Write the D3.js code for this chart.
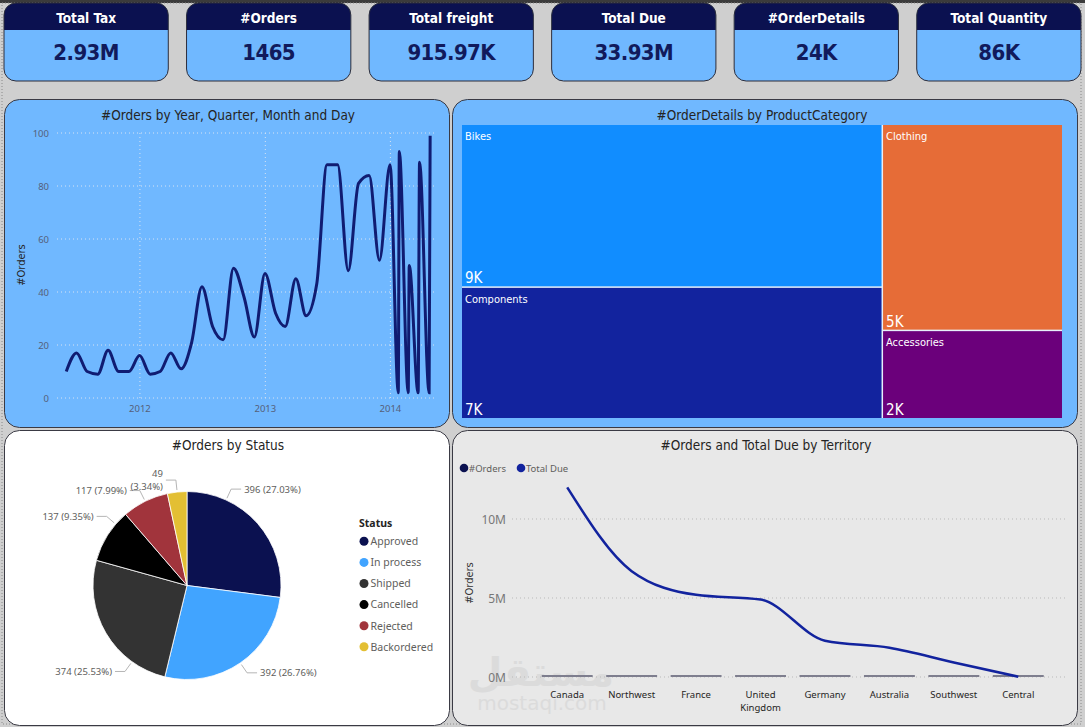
<!DOCTYPE html>
<html>
<head>
<meta charset="utf-8">
<script src="https://cdn.jsdelivr.net/npm/d3@7"></script>
<style>
  body { margin: 0; background: #cfcfcf; }
  svg { display: block; }
  .din { font-family: "DejaVu Sans Condensed", "DejaVu Sans", sans-serif; }
  .ui { font-family: "Noto Sans", "Open Sans", sans-serif; }
</style>
</head>
<body>
<svg id="dash" width="1085" height="727"></svg>
<script>
// ---- data ----
var kpiLabels = ["Total Tax", "#Orders", "Total freight", "Total Due", "#OrderDetails", "Total Quantity"];
var kpiValues = ["2.93M", "1465", "915.97K", "33.93M", "24K", "86K"];

var orderDates = ["2011-05-31", "2011-06-30", "2011-07-31", "2011-08-31", "2011-09-30", "2011-10-31",
  "2011-11-30", "2011-12-31", "2012-01-31", "2012-02-29", "2012-03-31", "2012-04-30", "2012-05-31",
  "2012-06-30", "2012-07-31", "2012-08-31", "2012-09-30", "2012-10-31", "2012-11-30", "2012-12-31",
  "2013-01-31", "2013-02-28", "2013-03-31", "2013-04-30", "2013-05-31", "2013-06-30", "2013-07-31",
  "2013-08-31", "2013-09-30", "2013-10-31", "2013-11-30", "2013-12-31",
  "2014-01-24", "2014-01-27", "2014-02-22", "2014-02-25", "2014-03-23", "2014-03-27",
  "2014-04-24", "2014-04-27"];
var orderCounts = [10, 17, 10, 9, 18, 10, 10, 16, 9, 10, 17, 11, 21, 42, 27, 22, 49, 38, 23, 47,
  32, 27, 45, 31, 43, 88, 88, 48, 81, 84, 52, 88, 2, 93, 2, 50, 2, 89, 2, 99];
var orderYTicks = [0, 20, 40, 60, 80, 100];

var categories = ["Bikes", "Components", "Clothing", "Accessories"];
var categoryDetails = [9217, 7450, 5000, 2143];
var categoryGroup = [0, 0, 1, 1];
var categoryLabels = ["9K", "7K", "5K", "2K"];

var statuses = ["Approved", "In process", "Shipped", "Cancelled", "Rejected", "Backordered"];
var statusOrders = [396, 392, 374, 137, 117, 49];

var territories = ["Canada", "Northwest", "France", "United Kingdom", "Germany", "Australia", "Southwest", "Central"];
var territoryOrders = [260, 240, 200, 190, 180, 170, 160, 65]; // estimated, too small to read at this scale
var territoryDue = [12.0e6, 6.7e6, 5.2e6, 4.9e6, 2.3e6, 1.85e6, 0.92e6, 0.02e6];
var dueTicks = [0, 5e6, 10e6];

var svg = d3.select("#dash");

// frame
svg.append("rect").attr("x", 0).attr("y", 0).attr("width", 1085).attr("height", 3).attr("fill", "#3b3b3b");
svg.append("rect").attr("x", 2).attr("y", 3).attr("width", 1079).attr("height", 721)
  .attr("fill", "none").attr("stroke", "#8a8a8a").attr("stroke-dasharray", "1,2");

// ---- KPI cards ----
var cardX = d3.scaleBand().domain(kpiLabels).range([4, 1081]).paddingInner(0.1);
var defs = svg.append("defs");
kpiLabels.forEach(function (k, i) {
  var x0 = cardX(k), w = cardX.bandwidth();
  defs.append("clipPath").attr("id", "card" + i)
    .append("rect").attr("x", x0).attr("y", 3).attr("width", w).attr("height", 78).attr("rx", 12);
  var g = svg.append("g");
  g.append("rect").attr("x", x0).attr("y", 3).attr("width", w).attr("height", 78).attr("rx", 12).attr("fill", "#70b8ff");
  g.append("rect").attr("x", x0).attr("y", 3).attr("width", w).attr("height", 27)
    .attr("fill", "#0b1150").attr("clip-path", "url(#card" + i + ")");
  g.append("rect").attr("x", x0).attr("y", 3).attr("width", w).attr("height", 78).attr("rx", 12)
    .attr("fill", "none").attr("stroke", "#2d2d3a").attr("stroke-width", 1);
  g.append("text").attr("class", "din").attr("x", x0 + w / 2).attr("y", 22.5)
    .attr("text-anchor", "middle").attr("fill", "#fff").attr("font-size", 13.5).attr("font-weight", "bold").text(k);
  g.append("text").attr("class", "din").attr("x", x0 + w / 2).attr("y", 60)
    .attr("text-anchor", "middle").attr("fill", "#111a5c").attr("font-size", 22).attr("letter-spacing", -0.6)
    .attr("font-weight", "bold").text(kpiValues[i]);
});

function panel(x, y, w, h, fill) {
  svg.append("rect").attr("x", x).attr("y", y).attr("width", w).attr("height", h).attr("rx", 15)
    .attr("fill", fill).attr("stroke", "#3a3a44").attr("stroke-width", 1);
}
function title(x, y, t) {
  svg.append("text").attr("class", "din").attr("x", x).attr("y", y).attr("text-anchor", "middle")
    .attr("fill", "#252423").attr("font-size", 13.5).text(t);
}

// ---- line chart: #Orders by date ----
panel(4.5, 99.5, 445, 328, "#70b8ff");
title(228, 119.5, "#Orders by Year, Quarter, Month and Day");

var parse = d3.timeParse("%Y-%m-%d");
var x = d3.scaleTime().domain([new Date(2011, 4, 4), new Date(2014, 4, 17)]).range([57, 437]);
var y = d3.scaleLinear().domain([0, 100]).range([398, 133]);
var lc = svg.append("g");
lc.selectAll(".hg").data(orderYTicks).enter().append("line")
  .attr("x1", 57).attr("x2", 437).attr("y1", y).attr("y2", y)
  .attr("stroke", "#d7e3f3").attr("stroke-dasharray", "1,3");
var years = x.ticks(d3.timeYear.every(1));
lc.selectAll(".vg").data(years).enter().append("line")
  .attr("x1", x).attr("x2", x).attr("y1", 133).attr("y2", 398)
  .attr("stroke", "#d7e3f3").attr("stroke-dasharray", "1,3");
lc.selectAll(".yl").data(orderYTicks).enter().append("text").attr("class", "ui")
  .attr("x", 49).attr("y", function (d) { return y(d) + 3.5; }).attr("text-anchor", "end")
  .attr("font-size", 9.5).attr("fill", "#55607a").text(function (d) { return d; });
lc.selectAll(".xl").data(years).enter().append("text").attr("class", "ui")
  .attr("x", x).attr("y", 412).attr("text-anchor", "middle")
  .attr("font-size", 9.5).attr("fill", "#55607a").text(d3.timeFormat("%Y"));
lc.append("text").attr("class", "din").attr("transform", "translate(25,265) rotate(-90)")
  .attr("text-anchor", "middle").attr("font-size", 11).attr("fill", "#252423").text("#Orders");
var pts = orderDates.map(function (d, i) { return [parse(d), orderCounts[i]]; });
lc.append("path").datum(pts)
  .attr("d", d3.line().x(function (d) { return x(d[0]); }).y(function (d) { return y(d[1]); }).curve(d3.curveMonotoneX))
  .attr("fill", "none").attr("stroke", "#101c72").attr("stroke-width", 3);

// ---- treemap: #OrderDetails by ProductCategory ----
panel(452.5, 99.5, 625, 328, "#70b8ff");
title(762, 119.5, "#OrderDetails by ProductCategory");
var tmX = 462, tmY = 125, tmW = 600, tmH = 293;
svg.append("rect").attr("x", tmX).attr("y", tmY).attr("width", tmW).attr("height", tmH).attr("fill", "#e6f0fb");
var tmColors = d3.scaleOrdinal().domain(categories).range(["#118dff", "#12239e", "#e66c37", "#6b007b"]);
var groups = d3.groups(categories.map(function (c, i) {
  return { name: c, value: categoryDetails[i], label: categoryLabels[i], group: categoryGroup[i] };
}), function (d) { return d.group; });
var root = d3.hierarchy({ children: groups.map(function (g) { return { children: g[1] }; }) })
  .sum(function (d) { return d.value || 0; })
  .sort(function (a, b) { return b.value - a.value; });
d3.treemap().size([tmW, tmH]).tile(d3.treemapSliceDice).paddingInner(1.5)(root);
var cells = svg.append("g").attr("transform", "translate(" + tmX + "," + tmY + ")")
  .selectAll("g").data(root.leaves()).enter().append("g");
cells.append("rect").attr("x", function (d) { return d.x0; }).attr("y", function (d) { return d.y0; })
  .attr("width", function (d) { return d.x1 - d.x0; }).attr("height", function (d) { return d.y1 - d.y0; })
  .attr("fill", function (d) { return tmColors(d.data.name); });
cells.append("text").attr("class", "din").attr("x", function (d) { return d.x0 + 3; })
  .attr("y", function (d) { return d.y0 + 15; }).attr("font-size", 11).attr("fill", "#fff")
  .text(function (d) { return d.data.name; });
cells.append("text").attr("class", "din").attr("x", function (d) { return d.x0 + 3; })
  .attr("y", function (d) { return d.y1 - 3; }).attr("font-size", 15).attr("fill", "#fff")
  .text(function (d) { return d.data.label; });

// ---- pie: #Orders by Status ----
panel(4.5, 430.5, 445, 295, "#ffffff");
title(228, 449.5, "#Orders by Status");
var pieColors = d3.scaleOrdinal().domain(statuses).range(["#0b1150", "#41a4ff", "#333333", "#000000", "#a1343c", "#e3bf33"]);
var cx = 187, cy = 585.5, r = 94;
var total = d3.sum(statusOrders);
var arcs = d3.pie().sort(null)(statusOrders);
var pg = svg.append("g").attr("transform", "translate(" + cx + "," + cy + ")");
pg.selectAll("path").data(arcs).enter().append("path")
  .attr("d", d3.arc().innerRadius(0).outerRadius(r))
  .attr("fill", function (d, i) { return pieColors(statuses[i]); })
  .attr("stroke", "#fff").attr("stroke-width", 0.8);
// leader angles (degrees from 12 o'clock) as Power BI placed them; null = slice middle
var leaderAngle = [24.6, null, 215.8, 310.7, null, null];
var wrapLabel = [false, false, false, false, false, true];
arcs.forEach(function (a, i) {
  var ang = leaderAngle[i] != null ? leaderAngle[i] * Math.PI / 180 : (a.startAngle + a.endAngle) / 2;
  var sx = Math.sin(ang), sy = -Math.cos(ang), side = sx >= 0 ? 1 : -1;
  var p0 = [sx * (r + 2), sy * (r + 2)], p1 = [sx * (r + 12), sy * (r + 12)], p2 = [p1[0] + side * 10, p1[1]];
  pg.append("polyline").attr("points", [p0, p1, p2].join(" "))
    .attr("fill", "none").attr("stroke", "#b5b5b5").attr("stroke-width", 1);
  var pct = "(" + d3.format(".2%")(statusOrders[i] / total) + ")";
  var lines = wrapLabel[i] ? [statusOrders[i], pct] : [statusOrders[i] + " " + pct];
  var t = pg.append("text").attr("class", "ui").attr("font-size", 9.5).attr("fill", "#605e5c")
    .attr("text-anchor", side > 0 ? "start" : "end");
  lines.forEach(function (l, j) {
    t.append("tspan").attr("x", p2[0] + side * 3)
      .attr("y", p2[1] + 3.5 + (j - (lines.length - 1) / 2) * 13).text(l);
  });
});
var lg = svg.append("g").attr("class", "ui");
lg.append("text").attr("x", 359).attr("y", 527).attr("font-size", 10.5).attr("font-weight", "bold")
  .attr("fill", "#252423").text("Status");
statuses.forEach(function (s, i) {
  var yy = 541.3 + i * 21.1;
  lg.append("circle").attr("cx", 364).attr("cy", yy).attr("r", 4.5).attr("fill", pieColors(s));
  lg.append("text").attr("x", 370.5).attr("y", yy + 3.8).attr("font-size", 10.5).attr("fill", "#605e5c").text(s);
});

// ---- combo: #Orders and Total Due by Territory ----
panel(452.5, 430.5, 625, 295, "#e8e8e8");
title(766, 449.5, "#Orders and Total Due by Territory");
// site watermark that sits over the reference image
var wm = svg.append("g").attr("opacity", 0.5);
wm.append("text").attr("x", 541).attr("y", 686).attr("text-anchor", "middle").attr("font-size", 40)
  .attr("font-weight", "bold").attr("fill", "#d0d0d0").attr("font-family", "DejaVu Sans").text("مستقل");
wm.append("text").attr("x", 542).attr("y", 710).attr("text-anchor", "middle").attr("font-size", 20)
  .attr("fill", "#d0d0d0").attr("font-family", "DejaVu Sans").text("mostaqi.com");

var tx = d3.scaleBand().domain(territories).range([535, 1050.5]).paddingInner(0.21).paddingOuter(0.105);
var ty = d3.scaleLinear().domain([0, 10e6]).range([677, 519]);
var tg = svg.append("g");
tg.selectAll(".g").data(dueTicks).enter().append("line")
  .attr("x1", 512).attr("x2", 1067).attr("y1", ty).attr("y2", ty)
  .attr("stroke", "#b9b9b9").attr("stroke-dasharray", "1,3");
tg.selectAll(".yl").data(dueTicks).enter().append("text").attr("class", "ui")
  .attr("x", 506).attr("y", function (d) { return ty(d) + 4.5; }).attr("text-anchor", "end")
  .attr("font-size", 12).attr("fill", "#777777").text(function (d) { return d / 1e6 + "M"; });
tg.append("text").attr("class", "din").attr("transform", "translate(473,583) rotate(-90)")
  .attr("text-anchor", "middle").attr("font-size", 11).attr("fill", "#333333").text("#Orders");
tg.selectAll(".bar").data(territoryOrders).enter().append("rect")
  .attr("x", function (d, i) { return tx(territories[i]); }).attr("width", tx.bandwidth())
  .attr("y", function (d) { return Math.min(ty(d), ty(0) - 2); })
  .attr("height", function (d) { return Math.max(ty(0) - ty(d), 2); })
  .attr("fill", "#7e7e8e");
territories.forEach(function (t, i) {
  var words = t.split(" ");
  var lbl = tg.append("text").attr("class", "ui").attr("text-anchor", "middle").attr("font-size", 9.5).attr("fill", "#252423");
  var cxT = tx(t) + tx.bandwidth() / 2;
  var linesT = words.length > 1 && t.length > 10 ? words : [t];
  linesT.forEach(function (w, j) {
    lbl.append("tspan").attr("x", cxT).attr("y", 698 + j * 13).text(w);
  });
});
tg.append("path").datum(territoryDue)
  .attr("d", d3.line().x(function (d, i) { return tx(territories[i]) + tx.bandwidth() / 2; }).y(function (d) { return ty(d); })
    .curve(d3.curveMonotoneX))
  .attr("fill", "none").attr("stroke", "#12239e").attr("stroke-width", 2.5);
var tl = svg.append("g").attr("class", "ui");
[["#Orders", "#0b1150", 464], ["Total Due", "#12239e", 521]].forEach(function (d) {
  tl.append("circle").attr("cx", d[2]).attr("cy", 468).attr("r", 4.3).attr("fill", d[1]);
  tl.append("text").attr("x", d[2] + 5).attr("y", 471.5).attr("font-size", 9.5).attr("fill", "#605e5c").text(d[0]);
});
</script>
</body>
</html>
